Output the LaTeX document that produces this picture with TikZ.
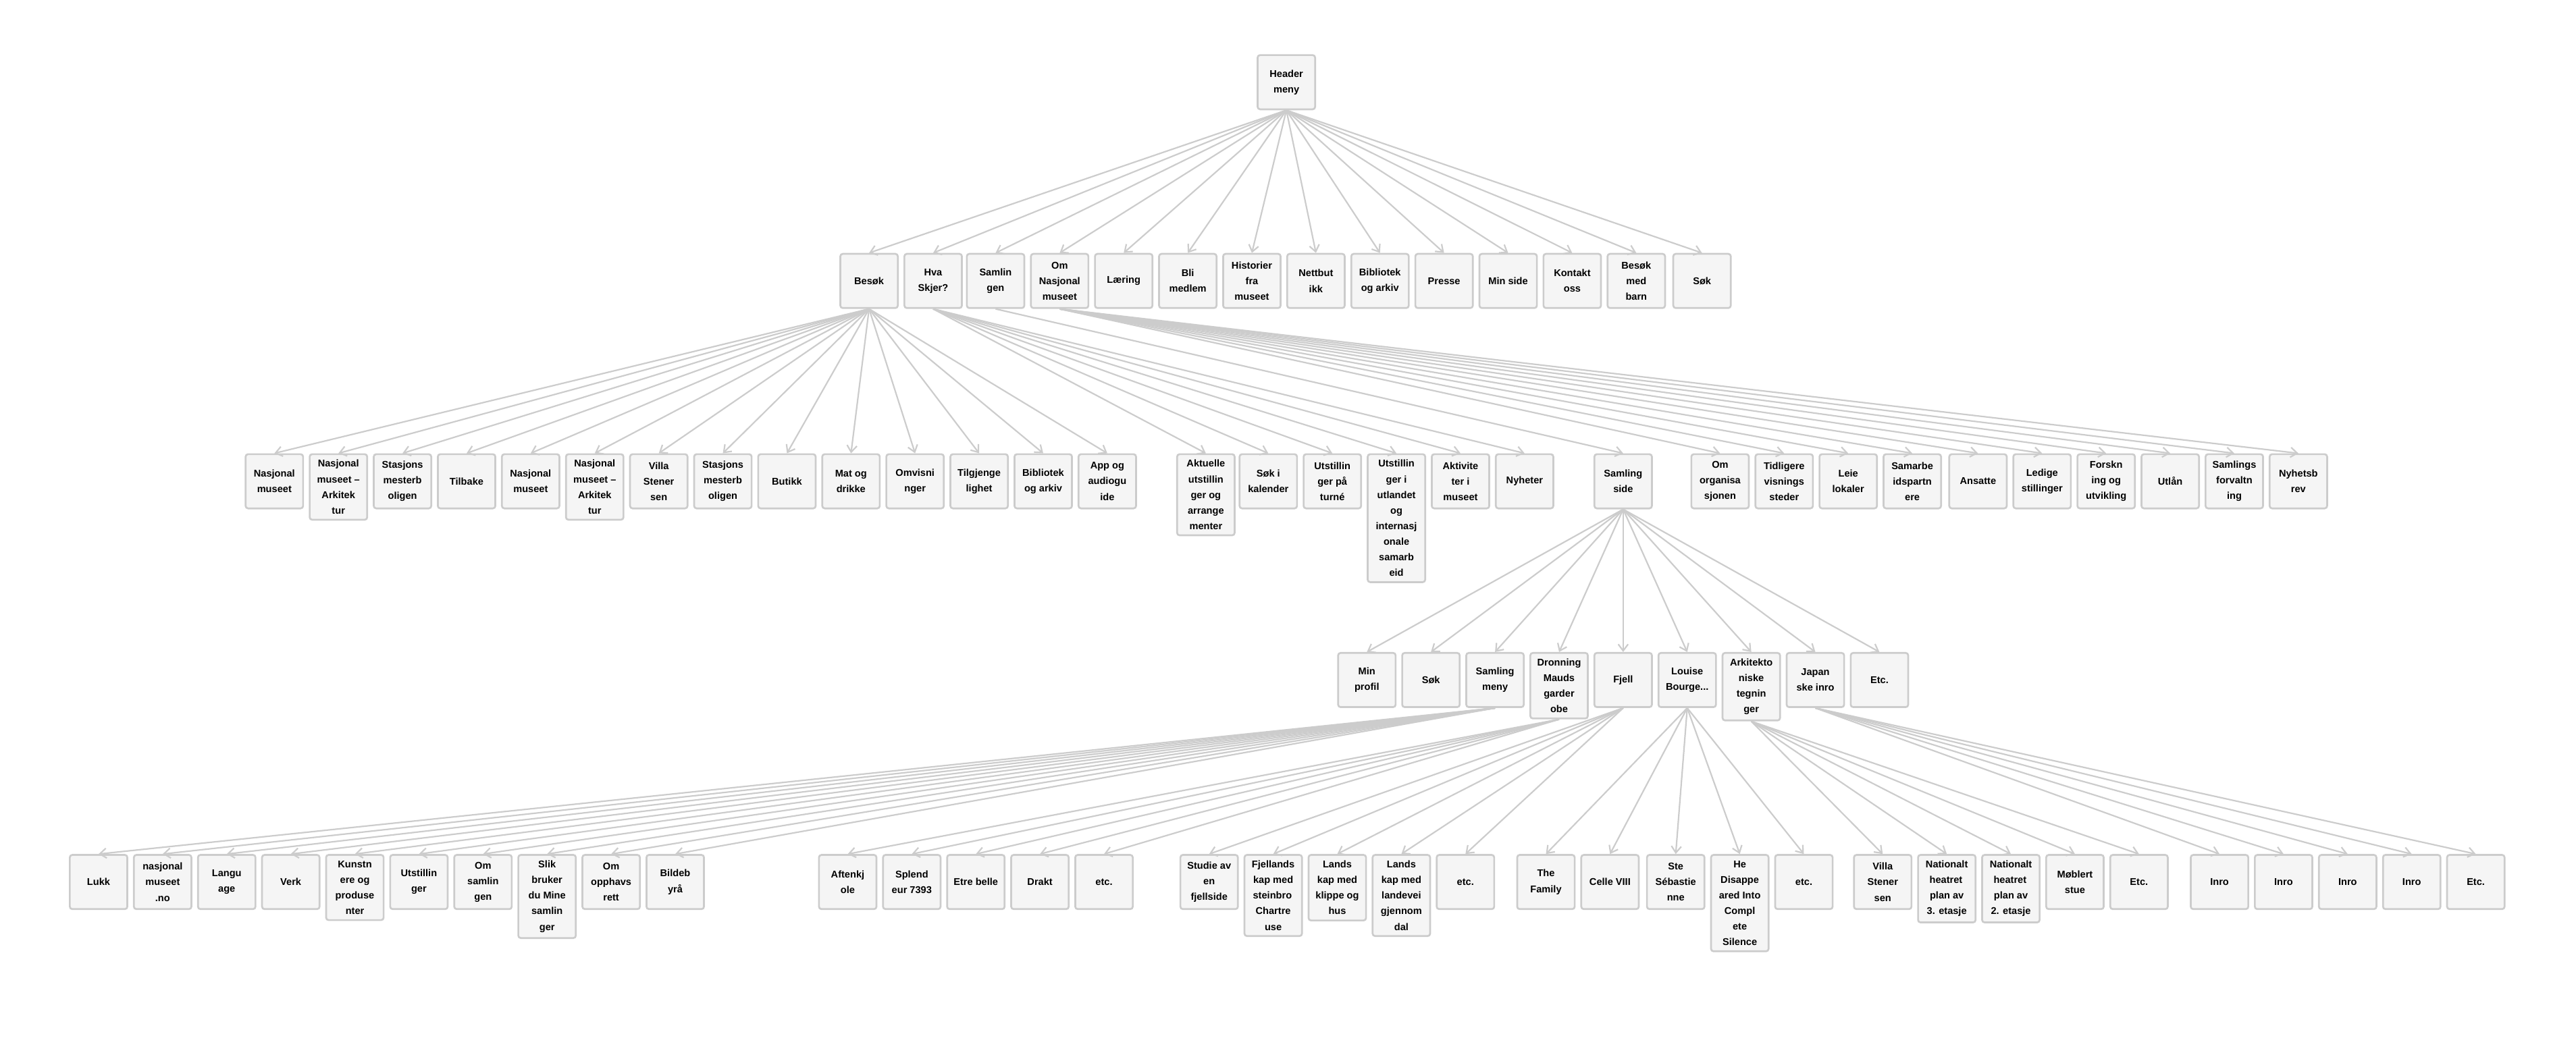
\documentclass[tikz,border=0pt]{standalone}
\usepackage{fontspec}
\setmainfont{Liberation Sans}
\usetikzlibrary{arrows.meta}
\definecolor{edgec}{HTML}{CCCCCC}
\definecolor{boxf}{HTML}{F5F5F5}
\def\mytdots{...}
\tikzset{
 box/.style={draw=edgec,fill=boxf,line width=1.1pt,rounded corners=1.5pt,anchor=north,
   minimum width=35pt,minimum height=33pt,inner xsep=1pt,inner ysep=3.5pt,align=center,
   font=\bfseries\fontsize{6}{9.5}\selectfont},
 conn/.style={draw=edgec,line width=0.9pt,-{Straight Barb[length=4pt,width=6pt]}}
}
\begin{document}
\begin{tikzpicture}[x=1pt,y=-1pt]
\useasboundingbox (0,0) rectangle (1568,641);
\node[box] (h) at (783,33) {Header\\meny};
% level 1
\foreach \n/\x/\t in {a1/529/Besøk,a2/568/Hva\\Skjer?,a3/606/Samlin\\gen,a4/645/Om\\Nasjonal\\museet,a5/684/Læring,a6/723/Bli\\medlem,a7/762/Historier\\fra\\museet,a8/801/Nettbut\\ikk,a9/840/Bibliotek\\og arkiv,a10/879/Presse,a11/918/Min side,a12/957/Kontakt\\oss,a13/996/Besøk\\med\\barn,a14/1036/Søk}
 {\node[box] (\n) at (\x,154) {\t}; \draw[conn] (h.south) -- (\n.north);}
% level 2 Besøk
\foreach \n/\x/\t in {b1/167/Nasjonal\\museet,b2/206/Nasjonal\\museet –\\Arkitek\\tur,b3/245/Stasjons\\mesterb\\oligen,b4/284/Tilbake,b5/323/Nasjonal\\museet,b6/362/Nasjonal\\museet –\\Arkitek\\tur,b7/401/Villa\\Stener\\sen,b8/440/Stasjons\\mesterb\\oligen,b9/479/Butikk,b10/518/Mat og\\drikke,b11/557/Omvisni\\nger,b12/596/Tilgjenge\\lighet,b13/635/Bibliotek\\og arkiv,b14/674/App og\\audiogu\\ide}
 {\node[box] (\n) at (\x,276) {\t}; \draw[conn] (a1.south) -- (\n.north);}
% Hva skjer
\foreach \n/\x/\t in {c1/734/Aktuelle\\utstillin\\ger og\\arrange\\menter,c2/772/Søk i\\kalender,c3/811/Utstillin\\ger på\\turné,c4/850/Utstillin\\ger i\\utlandet\\og\\internasj\\onale\\samarb\\eid,c5/889/Aktivite\\ter i\\museet,c6/928/Nyheter}
 {\node[box] (\n) at (\x,276) {\t}; \draw[conn] (a2.south) -- (\n.north);}
\node[box] (s) at (988,276) {Samling\\side};
\draw[conn] (a3.south) -- (s.north);
% Om
\foreach \n/\x/\t in {d1/1047/Om\\organisa\\sjonen,d2/1086/Tidligere\\visnings\\steder,d3/1125/Leie\\lokaler,d4/1164/Samarbe\\idspartn\\ere,d5/1204/Ansatte,d6/1243/Ledige\\stillinger,d7/1282/Forskn\\ing og\\utvikling,d8/1321/Utlån,d9/1360/Samlings\\forvaltn\\ing,d10/1399/Nyhetsb\\rev}
 {\node[box] (\n) at (\x,276) {\t}; \draw[conn] (a4.south) -- (\n.north);}
% level 3
\foreach \n/\x/\t in {e1/832/Min\\profil,e2/871/Søk,e3/910/Samling\\meny,e4/949/Dronning\\Mauds\\garder\\obe,e5/988/Fjell,e6/1027/Louise\\Bourge\mytdots,e7/1066/Arkitekto\\niske\\tegnin\\ger,e8/1105/Japan\\ske inro,e9/1144/Etc.}
 {\node[box] (\n) at (\x,397) {\t}; \draw[conn] (s.south) -- (\n.north);}
% level 4
\foreach \n/\x/\t in {f1/60/Lukk,f2/99/nasjonal\\museet\\.no,f3/138/Langu\\age,f4/177/Verk,f5/216/Kunstn\\ere og\\produse\\nter,f6/255/Utstillin\\ger,f7/294/Om\\samlin\\gen,f8/333/Slik\\bruker\\du Mine\\samlin\\ger,f9/372/Om\\opphavs\\rett,f10/411/Bildeb\\yrå}
 {\node[box] (\n) at (\x,520) {\t}; \draw[conn] (e3.south) -- (\n.north);}
\foreach \n/\x/\t in {g1/516/Aftenkj\\ole,g2/555/Splend\\eur 7393,g3/594/Etre belle,g4/633/Drakt,g5/672/etc.}
 {\node[box] (\n) at (\x,520) {\t}; \draw[conn] (e4.south) -- (\n.north);}
\foreach \n/\x/\t in {i1/736/Studie av\\en\\fjellside,i2/775/Fjellands\\kap med\\steinbro\,\\Chartre\\use,i3/814/Lands\\kap med\\klippe og\\hus,i4/853/Lands\\kap med\\landevei\\gjennom\\dal,i5/892/etc.}
 {\node[box] (\n) at (\x,520) {\t}; \draw[conn] (e5.south) -- (\n.north);}
\foreach \n/\x/\t in {j1/941/The\\Family,j2/980/Celle VIII,j3/1020/Ste\\Sébastie\\nne,j4/1059/He\\Disappe\\ared Into\\Compl\\ete\\Silence,j5/1098/etc.}
 {\node[box] (\n) at (\x,520) {\t}; \draw[conn] (e6.south) -- (\n.north);}
\foreach \n/\x/\t in {k1/1146/Villa\\Stener\\sen,k2/1185/Nationalt\\heatret\,\\plan av\\3. etasje,k3/1224/Nationalt\\heatret\,\\plan av\\2. etasje,k4/1263/Møblert\\stue,k5/1302/Etc.}
 {\node[box] (\n) at (\x,520) {\t}; \draw[conn] (e7.south) -- (\n.north);}
\foreach \n/\x/\t in {l1/1351/Inro,l2/1390/Inro,l3/1429/Inro,l4/1468/Inro,l5/1507/Etc.}
 {\node[box] (\n) at (\x,520) {\t}; \draw[conn] (e8.south) -- (\n.north);}
\end{tikzpicture}
\end{document}
